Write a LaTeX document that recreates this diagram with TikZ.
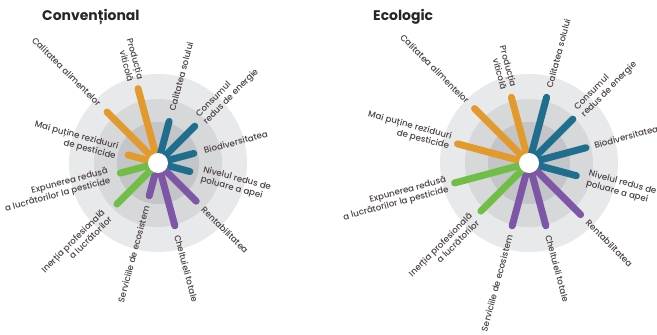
\documentclass[tikz,border=0pt]{standalone}
\usepackage{fontspec}
\setmainfont{Poppins}
\newfontfamily\lblfont{Poppins Medium}
\definecolor{ringA}{HTML}{E8E9EB}
\definecolor{ringB}{HTML}{D7D8DA}
\definecolor{ringC}{HTML}{C4C5C8}
\definecolor{cOr}{HTML}{E29A2C}
\definecolor{cBl}{HTML}{1F6E8E}
\definecolor{cPu}{HTML}{7D56A6}
\definecolor{cGr}{HTML}{70BE45}
\definecolor{labc}{HTML}{4A4143}
\newcommand\spokeR[4]{\node[lbl,anchor=west,rotate=#2,align=left] (#1) at (#2:#3) {#4};}
\newcommand\spokeL[4]{\node[lbl,anchor=east,rotate={#2+180},align=right] (#1) at (#2:#3) {#4};}
\begin{document}
\begin{tikzpicture}[x=1bp,y=1bp,
  lbl/.style={font=\lblfont\fontsize{8.7}{10.2}\selectfont, text=labc, inner sep=0.5pt},
  spoke/.style={line width=7bp, line cap=round},
  ttl/.style={font=\fontsize{14}{16}\selectfont\bfseries, text=black!85, anchor=base west, inner sep=0pt}]
\useasboundingbox (0,0) rectangle (657,334);
\fill[white] (0,0) rectangle (657,334);
% ---------------- Conventional ----------------
\node[ttl] (t1) at (42,314) {Convențional};
\begin{scope}[shift={(158,171)}]
  \fill[ringA] (0,0) circle (89);
  \fill[ringB] (0,0) circle (64);
  \fill[ringC] (0,0) circle (41);
  \foreach \a/\L/\c in {135/72/cOr,105/77/cOr,165/31/cOr,
                        75/43/cBl,45/52/cBl,15/37/cBl,-15/33/cBl,
                        -45/54/cPu,-75/65/cPu,-105/34/cPu,
                        -135/58/cGr,-165/39/cGr}
    \draw[spoke,\c] (0,0) -- (\a:\L);
  \fill[white] (0,0) circle (10);
  \spokeL{c1}{135}{82}{Calitatea alimentelor}
  \spokeL{c2}{105}{85}{Producția\\viticolă}
  \spokeR{c3}{75}{53}{Calitatea solului}
  \spokeR{c4}{45}{61}{Consumul\\redus de energie}
  \spokeR{c5}{15}{47}{Biodiversitatea}
  \spokeR{c6}{-15}{45}{Nivelul redus de\\poluare a apei}
  \spokeR{c7}{-45}{63}{Rentabilitatea}
  \spokeR{c8}{-75}{74}{Cheltuieli totale}
  \spokeL{c9}{-105}{44}{Serviciile de ecosistem}
  \spokeL{c10}{-135}{72}{Inerția profesională\\a lucrătorilor}
  \spokeL{c11}{-165}{50}{Expunerea redusă\\a lucrătorilor la pesticide}
  \spokeL{c12}{165}{42}{Mai puține reziduuri\\de pesticide}
\end{scope}
% ---------------- Ecologic ----------------
\node[ttl] (t2) at (373,314) {Ecologic};
\begin{scope}[shift={(529,171)}]
  \fill[ringA] (0,0) circle (89);
  \fill[ringB] (0,0) circle (64);
  \fill[ringC] (0,0) circle (41);
  \foreach \a/\L/\c in {135/77/cOr,105/68/cOr,165/74/cOr,
                        75/68/cBl,45/62/cBl,15/59/cBl,-15/49/cBl,
                        -45/73/cPu,-75/65/cPu,-105/65/cPu,
                        -135/68/cGr,-165/77/cGr}
    \draw[spoke,\c] (0,0) -- (\a:\L);
  \fill[white] (0,0) circle (10);
  \spokeL{e1}{135}{86}{Calitatea alimentelor}
  \spokeL{e2}{105}{77}{Producția\\viticolă}
  \spokeR{e3}{75}{77}{Calitatea solului}
  \spokeR{e4}{45}{71}{Consumul\\redus de energie}
  \spokeR{e5}{15}{67}{Biodiversitatea}
  \spokeR{e6}{-15}{60}{Nivelul redus de\\poluare a apei}
  \spokeR{e7}{-45}{82}{Rentabilitatea}
  \spokeR{e8}{-75}{74}{Cheltuieli totale}
  \spokeL{e9}{-105}{74}{Serviciile de ecosistem}
  \spokeL{e10}{-135}{77}{Inerția profesională\\a lucrătorilor}
  \spokeL{e11}{-165}{84}{Expunerea redusă\\a lucrătorilor la pesticide}
  \spokeL{e12}{165}{81}{Mai puține reziduuri\\de pesticide}
\end{scope}
\end{tikzpicture}
\end{document}
